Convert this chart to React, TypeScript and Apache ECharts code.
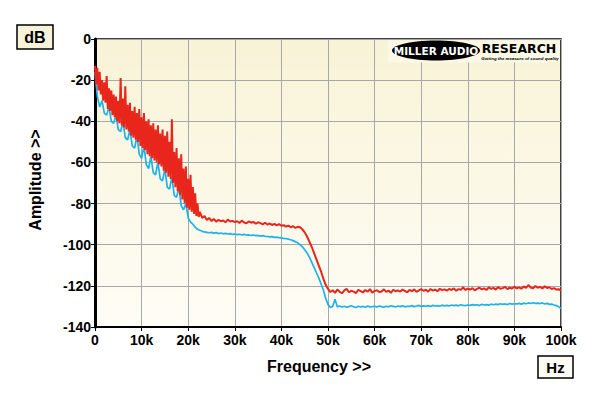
import React, { useEffect, useRef } from "react";
import * as echarts from "echarts";

// Frequency grid steps (Hz) of the measured spectra
const LOW_STEP_HZ = 250; // red trace, 0 .. 22.25 kHz
const HIGH_START_HZ = 22500; // red trace, 22.5 .. 100 kHz
const HIGH_STEP_HZ = 500;
const BLUE_STEP_HZ = 500; // blue trace, 0 .. 100 kHz

const xTicks = ["0", "10k", "20k", "30k", "40k", "50k", "60k", "70k", "80k", "90k", "100k"];
const yTicks = ["0", "-20", "-40", "-60", "-80", "-100", "-120", "-140"];

// Red trace (dB), 0 .. 22.25 kHz in 0.25 kHz steps
const redLow: number[] = [
  -13, -22, -14, -25, -16, -27, -20, -30, -21, -31,
  -18, -34, -24, -35, -25, -37, -27, -38, -28, -40,
  -30, -41, -19, -42, -29, -43, -23, -44, -32, -45,
  -31, -47, -35, -48, -33, -49, -36, -50, -34, -52,
  -38, -53, -36, -54, -40, -56, -39, -57, -42, -58,
  -41, -59, -44, -60, -42, -61, -46, -62, -44, -64,
  -47, -65, -45, -67, -50, -68, -39, -70, -55, -72,
  -53, -74, -58, -76, -56, -78, -63, -80, -62, -82,
  -68, -83, -66, -84, -72, -85, -75, -86, -80, -86.5,
];

// Red trace (dB), 22.5 .. 100 kHz in 0.5 kHz steps
const redHigh: number[] = [
  -84, -87, -86, -88, -87, -88.5,
  -87.5, -88.8, -87.9, -88.6, -88.2, -89.1, -87.8, -88.7, -88.4, -89.0,
  -88.6, -89.4, -88.3, -89.2, -89.6, -88.7, -89.3, -88.9, -89.8, -89.1,
  -89.5, -90.1, -89.3, -90.2, -89.7, -90.4, -89.9, -90.6, -90.0, -90.8,
  -90.5, -91.2, -90.7, -91.5, -91.0, -91.8, -91.3, -91.5,
  -92.5, -94, -96, -98.5, -101, -104, -107, -110, -113, -116.5, -119.5, -121.5,
  -123.0, -122.1, -123.4, -121.8, -122.9, -123.6, -122.2, -121.5, -123.1, -122.4,
  -122.8, -123.5, -121.9, -122.6, -123.2, -122.0, -122.9, -121.6, -123.3, -122.5,
  -122.1, -123.0, -122.7, -121.7, -122.9, -122.3, -123.4, -121.9, -122.6, -122.2,
  -122.8, -121.8, -122.5, -123.1, -122.0, -122.6, -121.7, -122.9, -122.2, -121.6,
  -122.4, -121.9, -122.8, -121.5, -122.3, -121.8, -122.6, -121.4, -122.1, -121.7,
  -122.3, -121.5, -122.0, -121.2, -122.4, -121.6, -121.9, -120.8, -122.0, -121.4,
  -121.8, -121.1, -122.2, -121.5, -120.9, -121.7, -121.2, -122.0, -120.7, -121.5,
  -121.0, -121.8, -120.6, -121.4, -121.1, -120.5, -121.6, -120.9, -121.3, -120.4,
  -121.2, -120.7, -121.4, -120.3, -121.0, -119.6, -120.8, -121.2, -120.1, -120.9,
  -120.5, -121.3, -120.2, -121.0, -120.7, -121.5, -121.1, -121.8, -121.6, -122.3,
];

// Blue trace (dB), 0 .. 100 kHz in 0.5 kHz steps
const blueSeries: number[] = [
  -16, -28, -33, -30, -36, -37, -33, -40, -41, -37,
  -44, -45, -40, -48, -49, -44, -52, -53, -47, -56,
  -58, -52, -61, -63, -57, -65, -66, -60, -68, -69,
  -63, -72, -73, -67, -76, -77, -72, -81, -83, -80,
  -87, -89, -90, -91.5, -92.5, -93, -93.5, -93.8, -94, -94.2,
  -94,
  -94.4, -94.1, -94.6, -94.3, -94.7, -94.5, -94.8, -94.6, -95.0, -94.8,
  -95.1, -94.9, -95.2, -95.0, -95.3, -95.2, -95.5, -95.3, -95.6, -95.5,
  -95.8, -95.6, -95.9, -96.0, -96.2, -96.1, -96.4, -96.3, -96.6, -96.7,
  -96.9, -97.0, -97.3, -97.6, -98.0, -98.5, -99.1, -100,
  -101, -102.5, -104, -106, -108.5, -111, -113.5, -116, -119, -122, -126, -129,
  -130.5, -130, -126.5, -130.2,
  -129.8, -130.3, -129.9, -130.4, -130.1, -129.7,
  -130.2, -130.5, -129.9, -130.3, -130.0, -130.4, -129.8, -130.2, -130.1, -129.9,
  -130.3, -129.8, -130.1, -130.4, -129.9, -130.2, -129.7, -130.0, -130.3, -129.8,
  -130.1, -129.7, -130.2, -129.9, -130.0, -129.6, -130.1, -129.8, -129.5, -130.0,
  -129.7, -129.9, -129.6, -130.0, -129.5, -129.8, -129.6, -129.9, -129.4, -129.7,
  -129.5, -129.8, -129.3, -129.6, -129.4, -129.7, -129.2, -129.5, -129.6, -129.3,
  -129.5, -129.1, -129.4, -129.2, -129.6, -129.0, -129.3, -129.1, -129.4, -128.9,
  -129.2, -128.9, -129.1, -128.7, -129.0, -128.8, -129.1, -128.6, -128.9, -128.7,
  -128.8, -128.5, -128.9, -128.4, -128.7, -128.3, -128.6, -128.2, -128.5, -128.4,
  -128.6, -128.3, -128.8, -128.5, -129.0, -128.9, -129.3, -129.6, -130.2, -131.0,
];

const toPairs = (vals: number[], start: number, step: number) =>
  vals.map((v, i) => [start + i * step, v]);

const FONT = "'Liberation Sans', Arial, sans-serif";
const WIDE = "'DejaVu Sans', 'Liberation Sans', sans-serif";

// the page has an 8px body margin; graphics are offset by it
const O = 8;

export default function App() {
  const ref = useRef<HTMLDivElement>(null);
  useEffect(() => {
    if (!ref.current) return;
    const chart = echarts.init(ref.current, undefined, { renderer: "svg" });
    const redData = [
      ...toPairs(redLow, 0, LOW_STEP_HZ),
      ...toPairs(redHigh, HIGH_START_HZ, HIGH_STEP_HZ),
    ];
    chart.setOption({
      animation: false,
      backgroundColor: "#ffffff",
      grid: {
        left: 95 - O,
        right: 592 - (561 - O),
        top: 39 - O,
        bottom: 388 - (327 - O),
        show: true,
        borderColor: "#000",
        borderWidth: 1.5,
        backgroundColor: new echarts.graphic.LinearGradient(0, 0, 0, 1, [
          { offset: 0, color: "#f8f3d6" },
          { offset: 1, color: "#fefdf6" },
        ]),
      },
      xAxis: {
        type: "value",
        min: 0,
        max: 100000,
        interval: 10000,
        axisLine: { show: true, onZero: false, lineStyle: { color: "#000", width: 2 } },
        axisTick: { show: true, length: 4, lineStyle: { color: "#000", width: 1 } },
        axisLabel: {
          color: "#000",
          fontFamily: FONT,
          fontWeight: "bold",
          fontSize: 14,
          margin: 6,
          formatter: (v: number) => xTicks[Math.round(v / 10000)] ?? "",
        },
        splitLine: { show: true, lineStyle: { color: "#a8a8a8", width: 1 } },
      },
      yAxis: {
        type: "value",
        min: -140,
        max: 0,
        interval: 20,
        axisLine: { show: true, onZero: false, lineStyle: { color: "#000", width: 3 } },
        axisTick: { show: true, length: 4, lineStyle: { color: "#000", width: 1 } },
        axisLabel: {
          color: "#000",
          fontFamily: FONT,
          fontWeight: "bold",
          fontSize: 14,
          margin: 4,
          formatter: (v: number) => yTicks[Math.round(-v / 20)] ?? "",
        },
        splitLine: { show: true, lineStyle: { color: "#a8a8a8", width: 1 } },
      },
      series: [
        {
          type: "line",
          data: toPairs(blueSeries, 0, BLUE_STEP_HZ),
          showSymbol: false,
          lineStyle: { color: "#1eb2ea", width: 1.7 },
          z: 3,
        },
        {
          type: "line",
          data: redData,
          showSymbol: false,
          lineStyle: { color: "#e8261b", width: 2 },
          z: 4,
        },
      ],
      graphic: [
        {
          type: "rect",
          shape: { x: 17 - O, y: 25 - O, width: 36, height: 24 },
          style: { fill: "#f7f3d9", stroke: "#000", lineWidth: 1.5 },
        },
        {
          type: "text",
          x: 35 - O,
          y: 37 - O,
          style: {
            text: "dB",
            fill: "#000",
            font: `bold 16px ${FONT}`,
            align: "center",
            verticalAlign: "middle",
          },
        },
        {
          type: "rect",
          shape: { x: 538 - O, y: 356 - O, width: 35, height: 22 },
          style: { fill: "#fdfcf4", stroke: "#000", lineWidth: 1.5 },
        },
        {
          type: "text",
          x: 555.5 - O,
          y: 367 - O,
          style: {
            text: "Hz",
            fill: "#000",
            font: `bold 15px ${FONT}`,
            align: "center",
            verticalAlign: "middle",
          },
        },
        {
          type: "text",
          x: 319 - O,
          y: 366 - O,
          style: {
            text: "Frequency >>",
            fill: "#000",
            font: `bold 16px ${FONT}`,
            align: "center",
            verticalAlign: "middle",
          },
        },
        {
          type: "text",
          x: 35 - O,
          y: 180 - O,
          rotation: Math.PI / 2,
          style: {
            text: "Amplitude >>",
            fill: "#000",
            font: `bold 16px ${FONT}`,
            align: "center",
            verticalAlign: "middle",
          },
        },
        // logo
        {
          type: "rect",
          z: 10,
          shape: { x: 388 - O, y: 40.5 - O, width: 172, height: 22 },
          style: { fill: "#fbf8e6" },
        },
        {
          type: "ellipse",
          z: 11,
          shape: { cx: 436 - O, cy: 50.5 - O, rx: 44, ry: 10 },
          style: { fill: "#000" },
        },
        {
          type: "text",
          z: 12,
          x: 436 - O,
          y: 50.5 - O,
          style: {
            text: "MILLER AUDIO",
            fill: "#fff",
            font: `bold 10.5px ${WIDE}`,
            align: "center",
            verticalAlign: "middle",
          },
        },
        {
          type: "text",
          z: 12,
          x: 519 - O,
          y: 48.5 - O,
          style: {
            text: "RESEARCH",
            fill: "#000",
            font: `bold 12.5px ${WIDE}`,
            align: "center",
            verticalAlign: "middle",
          },
        },
        {
          type: "text",
          z: 12,
          x: 520 - O,
          y: 58 - O,
          style: {
            text: "Getting the measure of sound quality",
            fill: "#000",
            font: `italic bold 4.4px ${FONT}`,
            align: "center",
            verticalAlign: "middle",
          },
        },
      ],
    });
    return () => chart.dispose();
  }, []);
  return <div ref={ref} style={{ width: 592, height: 388 }} />;
}
